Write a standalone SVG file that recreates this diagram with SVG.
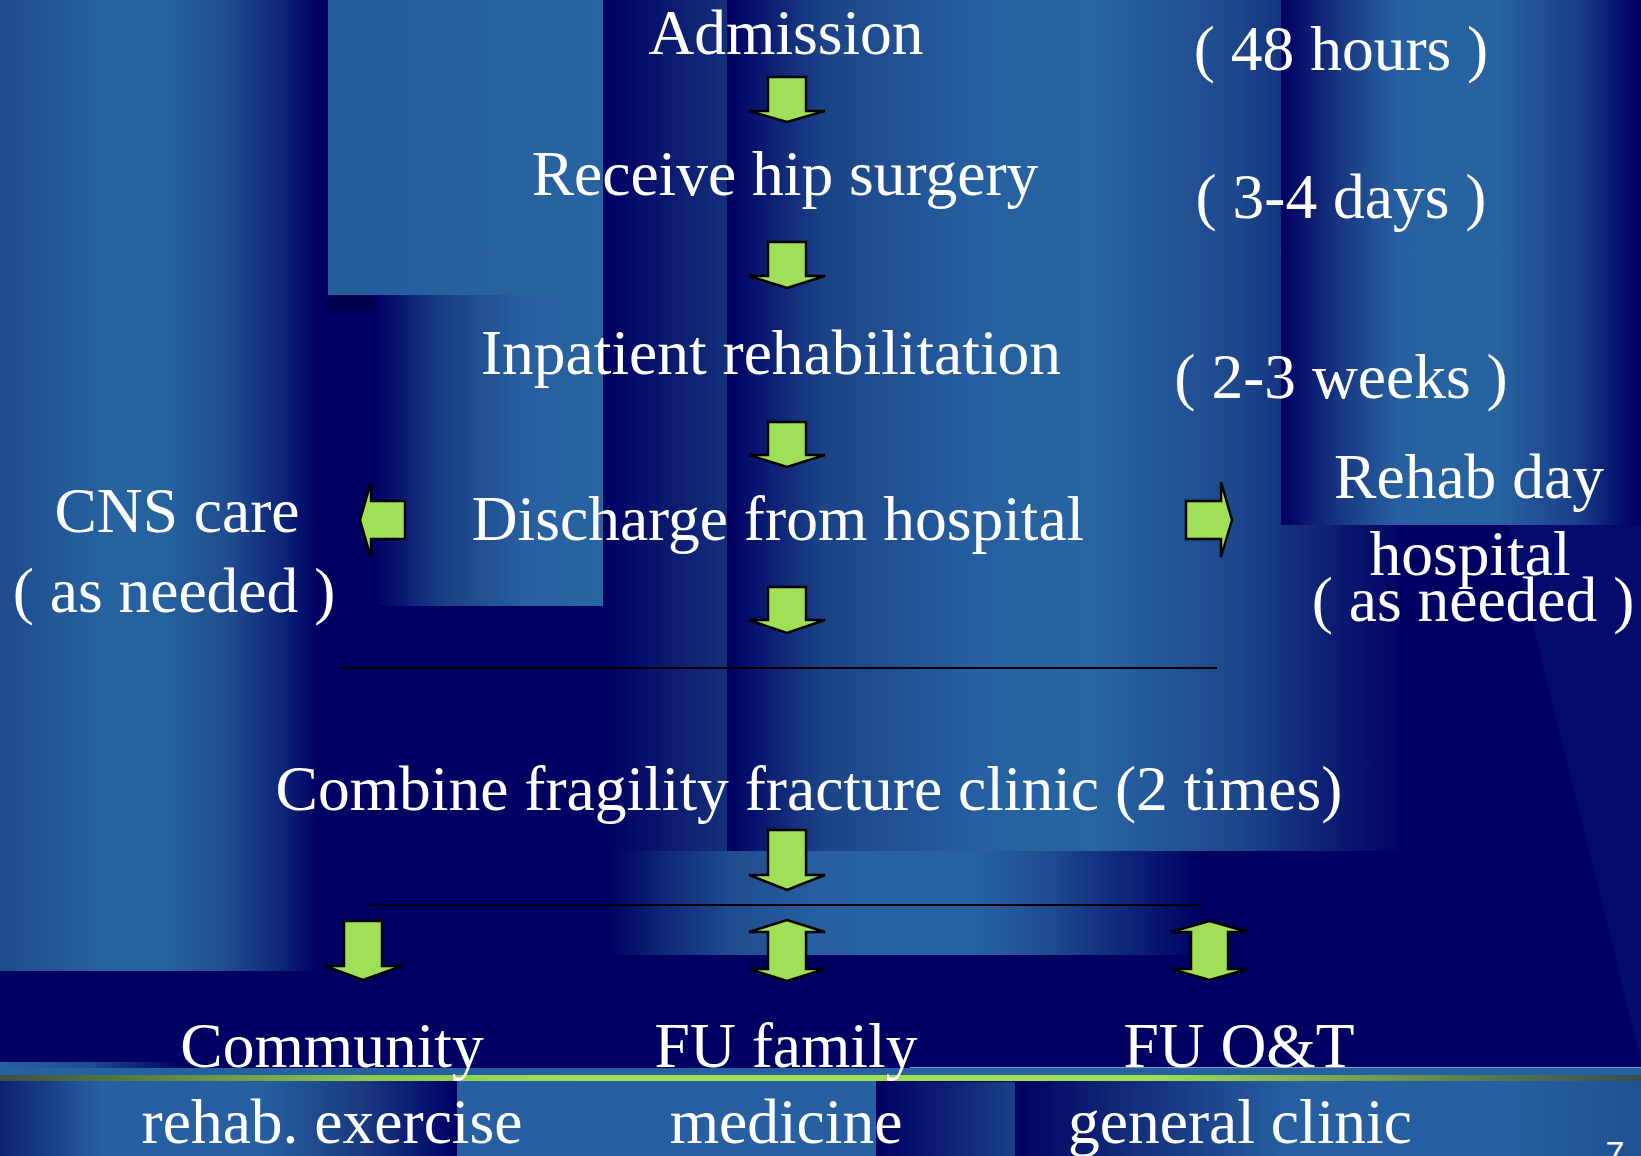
<svg xmlns="http://www.w3.org/2000/svg" width="1641" height="1156" viewBox="0 0 1641 1156">
<defs>
  <style>
    .t { font-family: "Liberation Serif", "Times New Roman", serif; font-size: 63.5px; fill: #ffffff; text-anchor: middle; }
    .pg { font-family: "Liberation Sans", Arial, sans-serif; font-size: 34px; fill: #ffffff; text-anchor: middle; }
    .arr { fill: #A0E058; stroke: #000000; stroke-width: 2.5; stroke-linejoin: miter; }
    .rule { stroke: #000000; stroke-width: 2; }
  </style>
  <linearGradient id="gLeftCol" x1="0" y1="0" x2="1" y2="0">
    <stop offset="0" stop-color="#1D4A8B"/>
    <stop offset="0.32" stop-color="#2763A1"/>
    <stop offset="0.5" stop-color="#2662A0"/>
    <stop offset="0.7" stop-color="#1F4C8F"/>
    <stop offset="0.88" stop-color="#0B1F75"/>
    <stop offset="0.97" stop-color="#000062"/>
  </linearGradient>
  <linearGradient id="gTopLeft" x1="0" y1="0" x2="1" y2="0">
    <stop offset="0" stop-color="#245C9C"/>
    <stop offset="1" stop-color="#2864A2"/>
  </linearGradient>
  <linearGradient id="gMidLeft" x1="0" y1="0" x2="1" y2="0">
    <stop offset="0" stop-color="#000062"/>
    <stop offset="0.3" stop-color="#1A3F85"/>
    <stop offset="0.65" stop-color="#2660A0"/>
    <stop offset="1" stop-color="#2863A2"/>
  </linearGradient>
  <linearGradient id="gStrip" x1="0" y1="0" x2="1" y2="0">
    <stop offset="0" stop-color="#000062"/>
    <stop offset="1" stop-color="#14307A"/>
  </linearGradient>
  <linearGradient id="gMid" x1="0" y1="0" x2="1" y2="0">
    <stop offset="0" stop-color="#000062"/>
    <stop offset="0.14" stop-color="#1B4388"/>
    <stop offset="0.37" stop-color="#2660A0"/>
    <stop offset="0.54" stop-color="#2864A2"/>
    <stop offset="0.75" stop-color="#1D478C"/>
    <stop offset="0.9" stop-color="#0A1A70"/>
    <stop offset="1" stop-color="#000062"/>
  </linearGradient>
  <linearGradient id="gRight" x1="0" y1="0" x2="1" y2="0">
    <stop offset="0" stop-color="#000062"/>
    <stop offset="0.18" stop-color="#1A3C84"/>
    <stop offset="0.32" stop-color="#2660A0"/>
    <stop offset="0.6" stop-color="#2763A1"/>
    <stop offset="0.82" stop-color="#1A4088"/>
    <stop offset="0.96" stop-color="#020A6A"/>
    <stop offset="1" stop-color="#000062"/>
  </linearGradient>
  <linearGradient id="gBand" x1="0" y1="0" x2="1" y2="0">
    <stop offset="0" stop-color="#000062"/>
    <stop offset="0.1" stop-color="#0F2878"/>
    <stop offset="0.2" stop-color="#1E4A8E"/>
    <stop offset="0.36" stop-color="#2660A0"/>
    <stop offset="0.62" stop-color="#2662A2"/>
    <stop offset="0.75" stop-color="#1E4A8E"/>
    <stop offset="0.89" stop-color="#0C2076"/>
    <stop offset="1" stop-color="#000062"/>
  </linearGradient>
  <linearGradient id="gBotLeft" x1="0" y1="0" x2="1" y2="0">
    <stop offset="0" stop-color="#0C2272"/>
    <stop offset="0.22" stop-color="#2660A0"/>
    <stop offset="0.57" stop-color="#2660A0"/>
    <stop offset="0.8" stop-color="#19397F"/>
    <stop offset="1" stop-color="#000066"/>
  </linearGradient>
  <linearGradient id="gBotMid" x1="0" y1="0" x2="1" y2="0">
    <stop offset="0" stop-color="#000062"/>
    <stop offset="1" stop-color="#1A4088"/>
  </linearGradient>
  <linearGradient id="gBotRight" x1="0" y1="0" x2="1" y2="0">
    <stop offset="0" stop-color="#000062"/>
    <stop offset="0.19" stop-color="#142E7A"/>
    <stop offset="0.44" stop-color="#2660A0"/>
    <stop offset="0.78" stop-color="#2660A0"/>
    <stop offset="1" stop-color="#1F5090"/>
  </linearGradient>
  <linearGradient id="gThin" x1="0" y1="0" x2="1" y2="0">
    <stop offset="0" stop-color="#2660A0"/>
    <stop offset="0.5" stop-color="#1E4C8E"/>
    <stop offset="1" stop-color="#000062"/>
  </linearGradient>
  <linearGradient id="gGreen" x1="0" y1="0" x2="1" y2="0">
    <stop offset="0" stop-color="#3A5040"/>
    <stop offset="0.22" stop-color="#8AC850"/>
    <stop offset="0.35" stop-color="#9EE055"/>
    <stop offset="0.7" stop-color="#9EE055"/>
    <stop offset="1" stop-color="#3A4A50"/>
  </linearGradient>
</defs>

<g id="background">
  <rect x="0" y="0" width="1641" height="1156" fill="#000062"/>
  <polygon points="1508,525 1641,525 1641,1062" fill="#030B6C"/>
  <rect x="0" y="0" width="328" height="971" fill="url(#gLeftCol)"/>
  <rect x="328" y="0" width="275" height="295" fill="url(#gTopLeft)"/>
  <rect x="328" y="295" width="46" height="16" fill="#00004E"/>
  <rect x="374" y="295" width="229" height="311" fill="url(#gMidLeft)"/>
  <rect x="603" y="0" width="124" height="851" fill="url(#gStrip)"/>
  <rect x="727" y="0" width="681" height="851" fill="url(#gMid)"/>
  <rect x="1281" y="0" width="360" height="525" fill="url(#gRight)"/>
  <rect x="607" y="851" width="594" height="104" fill="url(#gBand)"/>
  <rect x="0" y="1062" width="183" height="6" fill="url(#gThin)"/>
  <rect x="0" y="1068" width="1641" height="8" fill="#2560A0"/>
  <rect x="457" y="1068" width="419" height="88" fill="#2660A0"/>
  <rect x="0" y="1081" width="457" height="75" fill="url(#gBotLeft)"/>
  <rect x="876" y="1082" width="139" height="74" fill="url(#gBotMid)"/>
  <rect x="1015" y="1081" width="626" height="75" fill="url(#gBotRight)"/>
  <line x1="910" y1="1067.5" x2="1641" y2="1067.5" stroke="#8C96B8" stroke-width="1"/>
  <rect x="0" y="1075" width="1641" height="6" fill="url(#gGreen)"/>
</g>

<g id="connectors">
  <line class="rule" x1="341" y1="668" x2="1217" y2="668"/>
  <line class="rule" x1="369" y1="905" x2="1201" y2="905"/>
  <path class="arr" d="M768,77 H806 V111 H825 L787,122 L749,111 H768 Z"/>
  <path class="arr" d="M768,242 H806 V276 H825 L787,288 L749,276 H768 Z"/>
  <path class="arr" d="M768,422 H806 V455 H825 L787,467 L749,455 H768 Z"/>
  <path class="arr" d="M768,587 H806 V620 H825 L787,633 L749,620 H768 Z"/>
  <path class="arr" d="M768,830 H806 V875 H825 L787,890 L749,875 H768 Z"/>
  <path class="arr" d="M405,501 V539 H371 V558 L360,520 L371,482 V501 Z"/>
  <path class="arr" d="M1186,501 V539 H1221 V557 L1232,520 L1221,482 V501 Z"/>
  <path class="arr" d="M344,921 H382 V966 H402 L363,980 L325,966 H344 Z"/>
  <path class="arr" d="M787,920 L825,932 H806 V969 H825 L787,981 L749,969 H768 V932 H749 Z"/>
  <path class="arr" d="M1209.5,921 L1248,932 H1228 V969 H1248 L1209.5,980 L1171,969 H1191 V932 H1171 Z"/>
</g>

<g id="n-admission"><text class="t" x="786" y="54">Admission</text></g>
<g id="n-48h"><text class="t" x="1341" y="70">( 48 hours )</text></g>
<g id="n-surgery"><text class="t" x="785" y="195">Receive hip surgery</text></g>
<g id="n-3-4days"><text class="t" x="1341" y="218">( 3-4 days )</text></g>
<g id="n-inpatient"><text class="t" x="771" y="374">Inpatient rehabilitation</text></g>
<g id="n-2-3weeks"><text class="t" x="1341" y="398">( 2-3 weeks )</text></g>
<g id="n-discharge"><text class="t" x="778" y="540">Discharge from hospital</text></g>
<g id="n-cns">
  <text class="t" x="177" y="532">CNS care</text>
  <text class="t" x="174" y="612">( as needed )</text>
</g>
<g id="n-rehab-day">
  <text class="t" x="1469" y="498">Rehab day</text>
  <text class="t" x="1470" y="575">hospital</text>
  <text class="t" x="1473" y="621">( as needed )</text>
</g>
<g id="n-combine"><text class="t" x="809" y="810">Combine fragility fracture clinic (2 times)</text></g>
<g id="n-community">
  <text class="t" x="332" y="1067">Community</text>
  <text class="t" x="332" y="1143">rehab. exercise</text>
</g>
<g id="n-fu-family">
  <text class="t" x="786" y="1067">FU family</text>
  <text class="t" x="786" y="1143">medicine</text>
</g>
<g id="n-fu-ot">
  <text class="t" x="1239" y="1067">FU O&amp;T</text>
  <text class="t" x="1240" y="1143">general clinic</text>
</g>
<g id="page-number"><text class="pg" x="1615" y="1165">7</text></g>
</svg>
